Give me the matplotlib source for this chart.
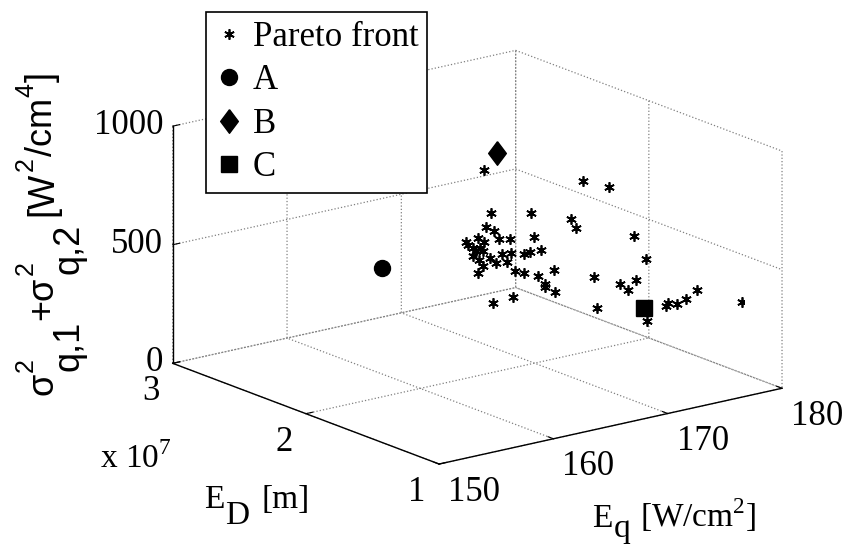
import matplotlib
matplotlib.use("Agg")
import matplotlib.pyplot as plt

plt.rcParams['font.family'] = ['Liberation Serif', 'DejaVu Serif']
plt.rcParams['grid.color'] = '#808080'
plt.rcParams['grid.linestyle'] = ':'
plt.rcParams['grid.linewidth'] = 0.9

# Pareto front (E_q [W/cm2], E_D [x1e7 m], sigma sum [W2/cm4])
eq_pareto = [174.56, 176.74, 176.27, 172.13, 172.67, 172.27, 171.23, 171.60, 172.44, 169.81,
             172.79, 171.92, 171.67, 171.60, 171.12, 171.38, 171.22, 170.97, 170.80, 170.99,
             170.27, 170.17, 169.76, 169.34, 169.55, 170.15, 169.72, 169.27, 169.38, 169.55,
             168.94, 168.51, 168.03, 167.32, 167.35, 167.58, 167.83, 166.96, 168.06, 167.81,
             169.88, 167.85, 167.57, 168.34, 168.52, 167.64, 169.88, 171.04, 171.25, 171.94,
             172.48, 173.71, 178.24, 171.71, 170.95]
ed_pareto = [2.774, 2.212, 1.976, 2.513, 2.252, 1.918, 1.792, 2.498, 2.517, 1.236,
             2.240, 2.592, 2.526, 2.401, 2.284, 2.621, 2.570, 2.489, 2.527, 2.475,
             2.264, 2.195, 2.055, 1.975, 1.910, 2.433, 2.307, 2.230, 2.150, 2.345,
             2.330, 2.016, 1.907, 1.742, 1.625, 1.711, 1.733, 1.584, 1.993, 2.121,
             1.152, 1.367, 1.149, 1.095, 1.170, 1.327, 1.145, 1.102, 1.104, 1.097,
             1.075, 1.098, 1.149, 2.664, 2.524]
z_pareto = [600, 650, 680, 500, 550, 600, 600, 450, 420, 700,
            450, 380, 380, 420, 450, 350, 350, 370, 330, 360,
            400, 420, 450, 480, 500, 340, 380, 380, 400, 340,
            320, 400, 420, 450, 500, 420, 400, 420, 300, 250,
            620, 520, 540, 560, 500, 400, 360, 420, 430, 420,
            440, 460, 350, 350, 350]

# selected solutions A, B, C
pt_a = (165.01, 2.720, 300)
pt_b = (169.12, 2.210, 850)
pt_c = (171.96, 1.345, 350)

eq_ticks = [150, 160, 170, 180]
ed_ticks = [1, 2, 3]
z_ticks = [0, 500, 1000]

W, H = 852, 549
fig = plt.figure(figsize=(W / 100, H / 100), dpi=100)
ax = fig.add_axes([0.0516, 0.018, 1.0, 1.0], projection='3d', proj_type='ortho')
ax.view_init(elev=16.8, azim=-127.4)
ax.set_box_aspect((1, 1.016, 0.574), zoom=1.173)

ax.plot(eq_pareto, ed_pareto, z_pareto, linestyle='none', marker=(6, 2, 0),
        markersize=7.5, color='black', markeredgewidth=1.25, label='Pareto front')
ax.plot([pt_a[0]], [pt_a[1]], [pt_a[2]], linestyle='none', marker='o', markersize=11.5,
        color='black', label='A')
diamond = [(0, 1), (0.75, 0), (0, -1), (-0.75, 0), (0, 1)]
ax.plot([pt_b[0]], [pt_b[1]], [pt_b[2]], linestyle='none', marker=diamond, markersize=17,
        color='black', label='B')
ax.plot([pt_c[0]], [pt_c[1]], [pt_c[2]], linestyle='none', marker='s', markersize=11,
        color='black', label='C')

ax.set_xlim(150, 180)
ax.set_ylim(1, 3)
ax.set_zlim(0, 1000)
ax.set_xticks(eq_ticks)
ax.set_yticks(ed_ticks)
ax.set_zticks(z_ticks)
ax.tick_params(labelsize=25)
ax.tick_params(axis='x', pad=-1.0)
ax.tick_params(axis='y', pad=0)
ax.tick_params(axis='z', pad=-4.8)
plt.setp(ax.get_xticklabels(), ha='left', va='top')
plt.setp(ax.get_yticklabels(), ha='right', va='top')
plt.setp(ax.get_zticklabels(), ha='right', va='center')

for axis in (ax.xaxis, ax.yaxis, ax.zaxis):
    axis.pane.fill = False
    axis.pane.set_edgecolor('none')
    axis.line.set_color('black')
    axis.line.set_linewidth(1.0)
    axis._axinfo['tick']['inward_factor'] = 0.0
    axis._axinfo['tick']['outward_factor'] = 0.25


def rich_label(x, y, parts, rotation=0, family=None):
    # parts: (text, fontsize, baseline shift px, gap px before, advance?)
    renderer = fig.canvas.get_renderer()
    pos = 0.0
    for text, size, shift, gap, advance in parts:
        pos += gap
        if rotation == 90:
            px, py = x - shift, y + pos
        else:
            px, py = x + pos, y + shift
        t = fig.text(px / W, py / H, text, fontsize=size, family=family, rotation=rotation,
                     rotation_mode='anchor', ha='left', va='baseline')
        if advance:
            bb = t.get_window_extent(renderer)
            pos += bb.height if rotation == 90 else bb.width


rich_label(592, H - 527, [('E', 24, 0, 0, True), ('q', 24, -10, 1, True),
                          ('[W/cm$^{\\mathregular{2}}$]', 24, 0, 10, True)])
rich_label(204, H - 508, [('E', 24, 0, 0, True), ('D', 24, -16, 1, True),
                          ('[m]', 24, 0, 12, True)])
fig.text(100 / W, (H - 468) / H, 'x 10$^{\\mathregular{7}}$', fontsize=24)
sans = 'Liberation Sans'
rich_label(52, H - 395, [('σ', 26, 0, 0, True), ('2', 18, 19, 1, False), ('q,1', 26, -27, 1, True),
                         ('+σ', 26, 0, 1, True), ('2', 18, 19, 1, False), ('q,2', 26, -27, 1, True),
                         ('[W', 26, 0, 8, True), ('2', 18, 19, 1, True), ('/cm', 26, 0, 1, True),
                         ('4', 18, 19, 1, True), (']', 26, 0, 1, True)],
           rotation=90, family=sans)

leg = ax.legend(loc='upper left', bbox_to_anchor=(206 / W, 1 - 12 / H), bbox_transform=fig.transFigure,
                fontsize=25, fancybox=False, framealpha=1, edgecolor='black', borderaxespad=0,
                handlelength=0.8, handletextpad=0.28, labelspacing=0.3, borderpad=0.26)
leg.get_frame().set_linewidth(1.2)

fig.savefig('out.png', dpi=100)
